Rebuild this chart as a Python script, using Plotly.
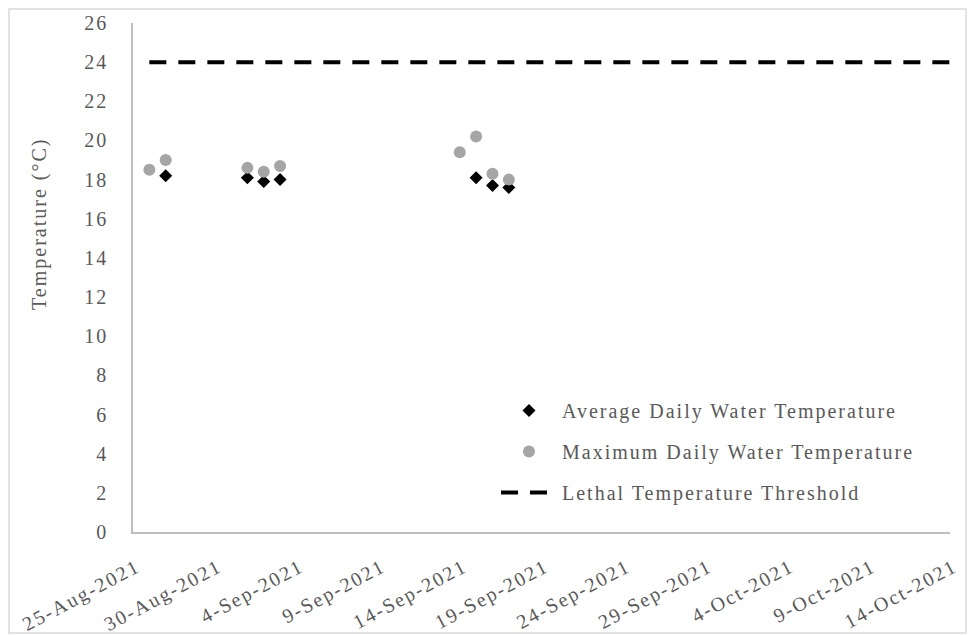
import plotly.graph_objects as go

# Data
avg_dates = ["2021-08-27", "2021-09-01", "2021-09-02", "2021-09-03",
             "2021-09-15", "2021-09-16", "2021-09-17"]
avg_temps = [18.2, 18.1, 17.9, 18.0, 18.1, 17.7, 17.6]

max_dates = ["2021-08-26", "2021-08-27", "2021-09-01", "2021-09-02", "2021-09-03",
             "2021-09-14", "2021-09-15", "2021-09-16", "2021-09-17"]
max_temps = [18.5, 19.0, 18.6, 18.4, 18.7, 19.4, 20.2, 18.3, 18.0]

threshold_dates = ["2021-08-26", "2021-10-14"]
threshold_temps = [24, 24]

tick_dates = ["2021-08-25", "2021-08-30", "2021-09-04", "2021-09-09", "2021-09-14",
              "2021-09-19", "2021-09-24", "2021-09-29", "2021-10-04", "2021-10-09",
              "2021-10-14"]
tick_labels = ["25-Aug-2021", "30-Aug-2021", "4-Sep-2021", "9-Sep-2021", "14-Sep-2021",
               "19-Sep-2021", "24-Sep-2021", "29-Sep-2021", "4-Oct-2021", "9-Oct-2021",
               "14-Oct-2021"]
y_ticks = list(range(0, 27, 2))

series_names = ["Average Daily Water Temperature",
                "Maximum Daily Water Temperature",
                "Lethal Temperature Threshold"]
y_title = "Temperature (°C)"

FONT = "Liberation Serif, Times New Roman, serif"
TXT = "#595959"
FS = 20


def sp(s, ls=2):
    return f'<span style="letter-spacing:{ls}px">{s}</span>'


W, H = 967, 628
L, R, T, B = 125, 25, 15, 104
pw, ph = W - L - R, H - T - B

fig = go.Figure()
fig.add_trace(go.Scatter(
    x=avg_dates, y=avg_temps, mode="markers",
    name=sp(series_names[0]),
    marker=dict(symbol="diamond", size=10, color="black"),
    legendgroup="a",
))
fig.add_trace(go.Scatter(
    x=max_dates, y=max_temps, mode="markers",
    name=sp(series_names[1]),
    marker=dict(symbol="circle", size=12, color="#A5A5A5"),
    legendgroup="b",
))
fig.add_trace(go.Scatter(
    x=threshold_dates, y=threshold_temps, mode="lines",
    name=sp(series_names[2]),
    line=dict(color="black", width=4, dash="17px,12px"),
    legendgroup="c",
))

fig.update_layout(
    width=W, height=H,
    margin=dict(l=L, r=R, t=T, b=B, autoexpand=False),
    paper_bgcolor="white", plot_bgcolor="white",
    font=dict(family=FONT, size=FS, color=TXT),
    showlegend=True,
    legend=dict(x=(496 - 133) / pw, y=(532 - 391) / ph, xanchor="left", yanchor="top",
                bgcolor="rgba(0,0,0,0)", tracegroupgap=12, itemwidth=56,
                font=dict(family=FONT, size=FS, color=TXT)),
    shapes=[dict(type="rect", xref="paper", yref="paper",
                 x0=(1 - L) / pw, x1=(958 - L) / pw,
                 y0=-(625 - (H - B)) / ph, y1=(H - B - 1) / ph,
                 line=dict(color="#D9D9D9", width=1.5), fillcolor="rgba(0,0,0,0)",
                 layer="below")],
    annotations=[dict(text=sp(y_title), textangle=-90, xref="paper", yref="paper",
                      x=(40 - 133) / pw, y=(532 - 224) / ph, xanchor="center",
                      yanchor="middle", showarrow=False,
                      font=dict(family=FONT, size=FS, color=TXT))],
)
fig.update_xaxes(
    type="date", range=["2021-08-25", "2021-10-14"], automargin=False,
    tickvals=tick_dates, ticktext=[sp(t) for t in tick_labels], tickangle=-28,
    ticklabelstandoff=14, ticklabelshift=4,
    showgrid=False, zeroline=False, showline=True, linecolor="#BFBFBF", linewidth=1.5,
    ticks="", tickfont=dict(family=FONT, size=FS, color=TXT),
)
fig.update_yaxes(
    range=[0, 26], tickvals=y_ticks, ticktext=[sp(str(v), 2) for v in y_ticks],
    automargin=False,
    showgrid=False, zeroline=False, showline=True, linecolor="#BFBFBF", linewidth=1.5,
    ticks="", ticklabelstandoff=19,
    tickfont=dict(family=FONT, size=FS, color=TXT),
)

fig.write_html("out.html")
